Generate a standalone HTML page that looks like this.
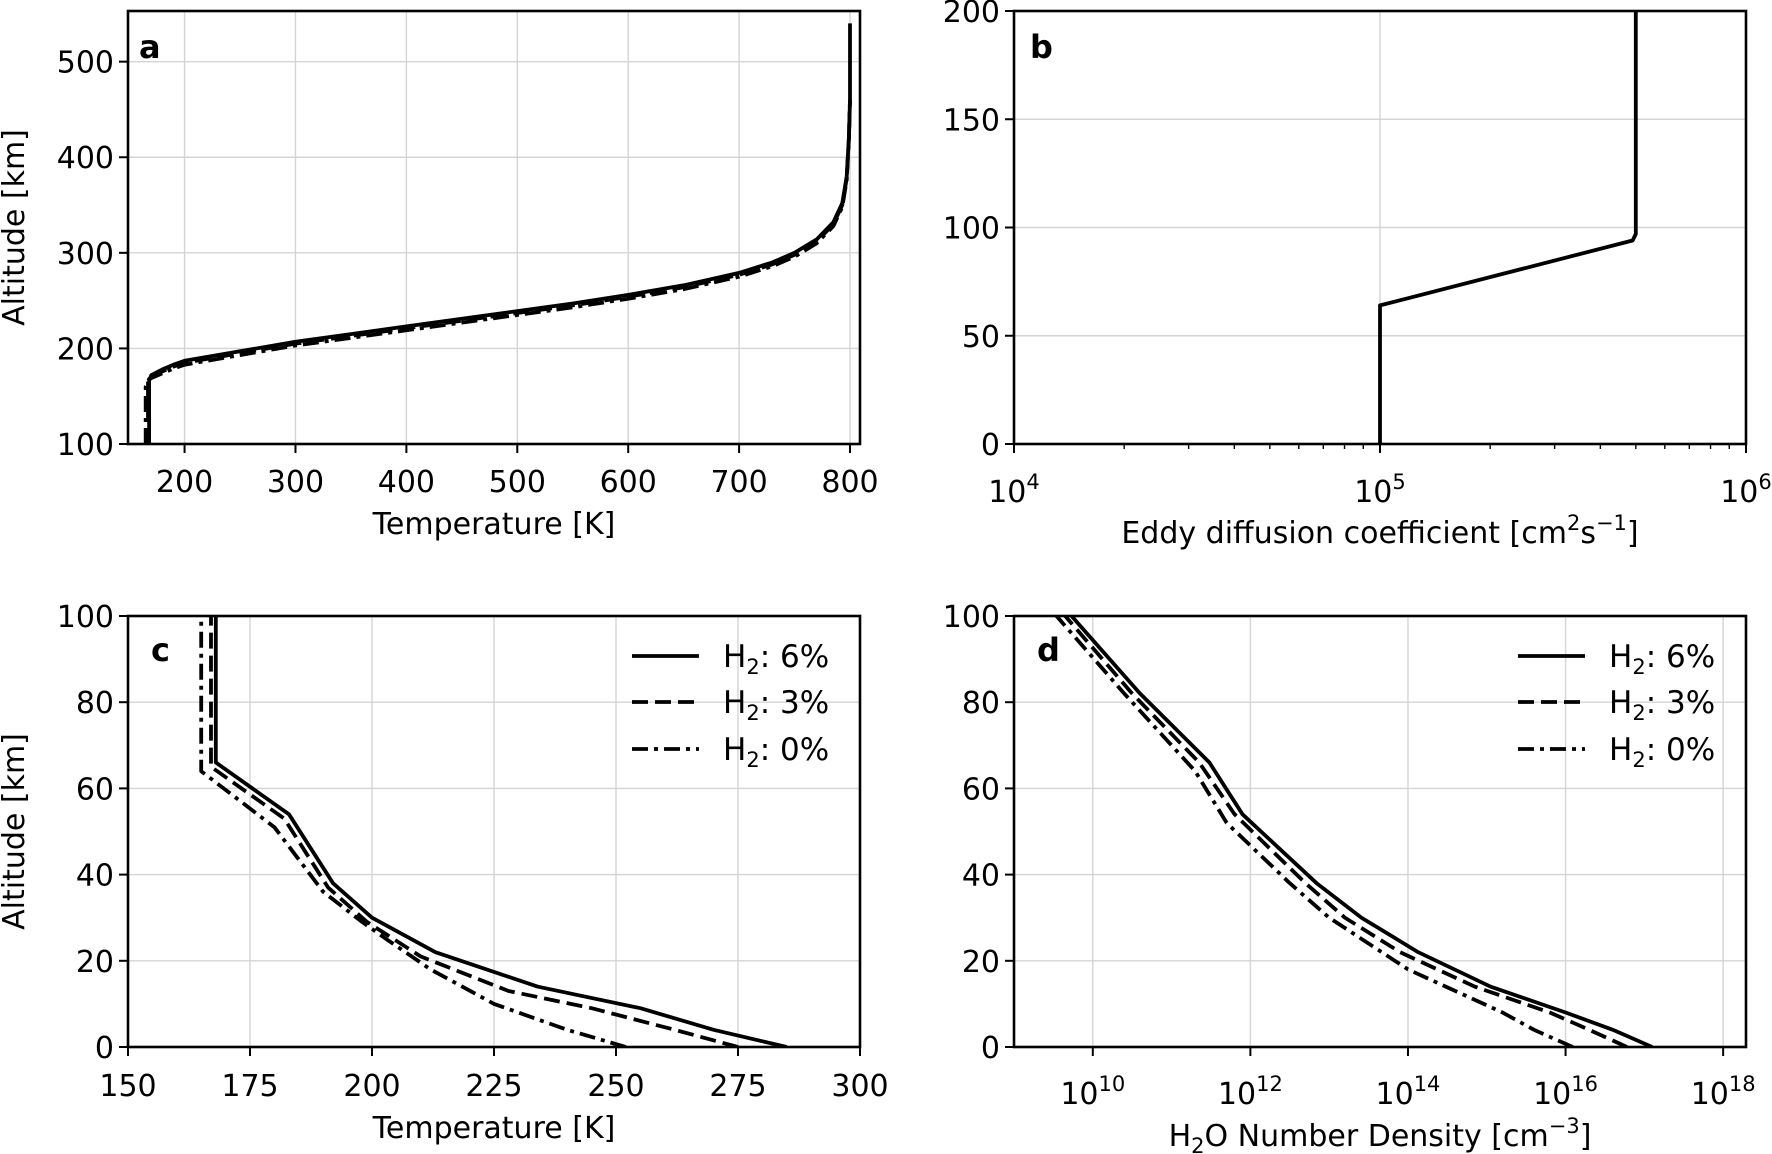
<!DOCTYPE html>
<html><head><meta charset="utf-8"><style>
html,body{margin:0;padding:0;background:#fff}
svg{display:block;font-family:"DejaVu Sans","Liberation Sans",sans-serif}
</style></head><body>
<svg id="fig" width="1772" height="1154" viewBox="0 0 1772 1154"></svg>
<script>
// ---- data ----
const aT_solid=[168,168,170,180,190,200,250,300,350,400,450,500,550,600,650,700,730,750,770,785,793,797,799,800,800];
const aZ_solid=[100,166,172,178,183,187,197,207,215,223,231,239,247,256,266,279,290,300,314,332,352,380,420,460,540];
const aT_dash=[167,167,169,180,190,200,250,300,350,400,450,500,550,600,650,700,730,750,770,785,793,797,799,800];
const aZ_dash=[100,164,170,176,181,185,195,205,213,221,229,237,245,254,264,277,288,298,312,330,350,378,420,460];
const aT_dd=[165,165,168,180,190,200,250,300,350,400,450,500,550,600,650,700,730,750,770,785,793,797,799,800];
const aZ_dd=[100,160,168,174,179,183,193,203,211,219,227,235,243,252,262,275,286,296,310,328,348,376,420,460];
const bK=[1e5,1e5,4.9e5,5e5,5e5];
const bZ=[0,64,94,97,200];
const cZ_solid=[0,4,9,14,22,30,38,54,66,100];
const cT_solid=[285,270,255,234,213,200,192,183,168,168];
const cZ_dash=[0,4,9,13,21,29,37,53,65,100];
const cT_dash=[275,262,245,228,210,199,191,182,167,167];
const cZ_dd=[0,4,10,18,25,29,36,51,64,100];
const cT_dd=[252,240,225,212,203,198,190,180,165,165];
const dZ_solid=[0,4,8,14,22,30,38,54,66,82,100];
const dL_solid=[17.1,16.6,16.0,15.05,14.13,13.41,12.84,11.9,11.48,10.6,9.73];
const dZ_dash=[0,4,8,14,22,30,38,54,66,82,100];
const dL_dash=[16.78,16.3,15.8,14.85,13.9,13.2,12.7,11.8,11.35,10.5,9.65];
const dZ_dd=[0,4,8,18,30,38,52,64,82,100];
const dL_dd=[16.09,15.6,15.2,14.0,13.0,12.5,11.7,11.3,10.4,9.54];
const aXt=[200,300,400,500,600,700,800], aYt=[100,200,300,400,500];
const bYt=[0,50,100,150,200];
const cXt=[150,175,200,225,250,275,300], cYt=[0,20,40,60,80,100];
const dXt=[10,12,14,16,18];
// ---- helpers ----
const NS="http://www.w3.org/2000/svg", svg=document.getElementById('fig');
const FS=30, SS=21;
function el(t,a,p){const e=document.createElementNS(NS,t);for(const k in a)e.setAttribute(k,a[k]);(p||svg).appendChild(e);return e;}
function scale(d0,d1,r0,r1){return v=>r0+(v-d0)/(d1-d0)*(r1-r0);}
const DASH={solid:'',dash:'16,7',dd:'16,6,4,6'};
function line(xs,ys,fx,fy,style,name,g){
  const pts=xs.map((x,i)=>fx(x).toFixed(1)+','+fy(ys[i]).toFixed(1)).join(' ');
  const e=el('polyline',{points:pts,fill:'none',stroke:'#000','stroke-width':3.8,'stroke-linejoin':'round'},g);
  if(DASH[style])e.setAttribute('stroke-dasharray',DASH[style]);
  
  
}
function panel(name){
  const g=el('g',{});
  
  
  return g;
}
function frame(g,L,R,T,B){const r=el('rect',{x:L,y:T,width:R-L,height:B-T,fill:'none',stroke:'#000','stroke-width':2.6},g);
  }
function grid(g,x1,y1,x2,y2){el('line',{x1,y1,x2,y2,stroke:'#d4d4d4','stroke-width':1.4},g);}
function tick(g,x1,y1,x2,y2,w){el('line',{x1,y1,x2,y2,stroke:'#000','stroke-width':w||2},g);}
function text(g,x,y,s,anchor,size,name,extra){
  const t=el('text',Object.assign({x,y,'text-anchor':anchor,'font-size':size||FS,fill:'#000'},extra||{}),g);
  t.innerHTML=s;
  
  
  return t;
}
function clip(id,L,R,T,B){const d=el('defs',{});const c=el('clipPath',{id},d);el('rect',{x:L,y:T,width:R-L,height:B-T},c);}
function ylabel(g,x,cy,s){text(g,x,cy,s,'middle',FS,'y-axis-title',{transform:`rotate(-90 ${x} ${cy})`});}
const sub2='H<tspan font-size="'+SS+'" dy="7">2</tspan><tspan dy="-7">';
function legend(g,x0,x1,tx,ys){
  const labels=[sub2+': 6%</tspan>',sub2+': 3%</tspan>',sub2+': 0%</tspan>'];
  const st=['solid','dash','dd'];
  ys.forEach((y,i)=>{
    const l=el('line',{x1:x0,y1:y,x2:x1,y2:y,stroke:'#000','stroke-width':3.8},g);
    if(DASH[st[i]])l.setAttribute('stroke-dasharray',DASH[st[i]]);
    
    
    text(g,tx,y+11,labels[i],'start',31,'legend-entry');
  });
}
function xlog(g,x,y,p){text(g,x,y,'10<tspan font-size="'+SS+'" dy="-13">'+p+'</tspan>','middle',FS,'x-tick-label');}
// ---- panel a ----
(function(){
  const L=128,R=860,T=11,B=444;
  const fx=scale(149,809,L,R), fy=scale(100,553,B,T);
  const g=panel('panel-a');clip('ca',L,R,T,B);
  aXt.forEach(v=>{grid(g,fx(v),T,fx(v),B);tick(g,fx(v),B,fx(v),B+9);text(g,fx(v),492,v,'middle',FS,'x-tick-label');});
  aYt.forEach(v=>{grid(g,L,fy(v),R,fy(v));tick(g,L-9,fy(v),L,fy(v));text(g,L-14,fy(v)+11,v,'end',FS,'y-tick-label');});
  const lg=el('g',{'clip-path':'url(#ca)'},g);
  line(aT_dd,aZ_dd,fx,fy,'dd','series-h2-0',lg);
  line(aT_dash,aZ_dash,fx,fy,'dash','series-h2-3',lg);
  line(aT_solid,aZ_solid,fx,fy,'solid','series-h2-6',lg);
  frame(g,L,R,T,B);
  text(g,139,58,'a','start',32,'panel-label',{'font-weight':'bold'});
  text(g,(L+R)/2,534,'Temperature [K]','middle',FS,'x-axis-title');
  ylabel(g,24,(T+B)/2,'Altitude [km]');
})();
// ---- panel b ----
(function(){
  const L=1014,R=1746,T=11,B=444;
  const fx=v=>scale(4,6,L,R)(Math.log10(v)), fy=scale(0,200,B,T);
  const g=panel('panel-b');
  [4,5,6].forEach(p=>{const x=fx(Math.pow(10,p));grid(g,x,T,x,B);tick(g,x,B,x,B+9);xlog(g,x,502,p);});
  [4,5].forEach(p=>{for(let m=2;m<10;m++){const x=fx(m*Math.pow(10,p));tick(g,x,B,x,B+5,1.4);}});
  bYt.forEach(v=>{grid(g,L,fy(v),R,fy(v));tick(g,L-9,fy(v),L,fy(v));text(g,L-14,fy(v)+11,v,'end',FS,'y-tick-label');});
  line(bK,bZ,fx,fy,'solid','eddy-diffusion-line',g);
  frame(g,L,R,T,B);
  text(g,1030,58,'b','start',32,'panel-label',{'font-weight':'bold'});
  text(g,(L+R)/2,543,'Eddy diffusion coefficient [cm<tspan font-size="'+SS+'" dy="-13">2</tspan><tspan dy="13">s</tspan><tspan font-size="'+SS+'" dy="-13">−1</tspan><tspan dy="13">]</tspan>','middle',FS,'x-axis-title');
})();
// ---- panel c ----
(function(){
  const L=128,R=860,T=616,B=1047;
  const fx=scale(150,300,L,R), fy=scale(0,100,B,T);
  const g=panel('panel-c');clip('cc',L,R,T,B);
  cXt.forEach(v=>{grid(g,fx(v),T,fx(v),B);tick(g,fx(v),B,fx(v),B+9);text(g,fx(v),1096,v,'middle',FS,'x-tick-label');});
  cYt.forEach(v=>{grid(g,L,fy(v),R,fy(v));tick(g,L-9,fy(v),L,fy(v));text(g,L-14,fy(v)+11,v,'end',FS,'y-tick-label');});
  const lg=el('g',{'clip-path':'url(#cc)'},g);
  line(cT_dd,cZ_dd,fx,fy,'dd','series-h2-0',lg);
  line(cT_dash,cZ_dash,fx,fy,'dash','series-h2-3',lg);
  line(cT_solid,cZ_solid,fx,fy,'solid','series-h2-6',lg);
  frame(g,L,R,T,B);
  text(g,151,661,'c','start',32,'panel-label',{'font-weight':'bold'});
  legend(g,632,699,723,[656,702,749]);
  text(g,(L+R)/2,1138,'Temperature [K]','middle',FS,'x-axis-title');
  ylabel(g,24,(T+B)/2,'Altitude [km]');
})();
// ---- panel d ----
(function(){
  const L=1014,R=1746,T=616,B=1047;
  const fx=scale(9.0,18.29,L,R), fy=scale(0,100,B,T);
  const g=panel('panel-d');clip('cd',L,R,T,B);
  dXt.forEach(p=>{const x=fx(p);grid(g,x,T,x,B);tick(g,x,B,x,B+9);xlog(g,x,1104,p);});
  cYt.forEach(v=>{grid(g,L,fy(v),R,fy(v));tick(g,L-9,fy(v),L,fy(v));text(g,L-14,fy(v)+11,v,'end',FS,'y-tick-label');});
  const lg=el('g',{'clip-path':'url(#cd)'},g);
  line(dL_dd,dZ_dd,fx,fy,'dd','series-h2-0',lg);
  line(dL_dash,dZ_dash,fx,fy,'dash','series-h2-3',lg);
  line(dL_solid,dZ_solid,fx,fy,'solid','series-h2-6',lg);
  frame(g,L,R,T,B);
  text(g,1037,661,'d','start',32,'panel-label',{'font-weight':'bold'});
  legend(g,1518,1585,1609,[656,702,749]);
  text(g,(L+R)/2,1146,'H<tspan font-size="'+SS+'" dy="7">2</tspan><tspan dy="-7">O Number Density [cm</tspan><tspan font-size="'+SS+'" dy="-13">−3</tspan><tspan dy="13">]</tspan>','middle',FS,'x-axis-title');
})();
</script>
</body></html>
